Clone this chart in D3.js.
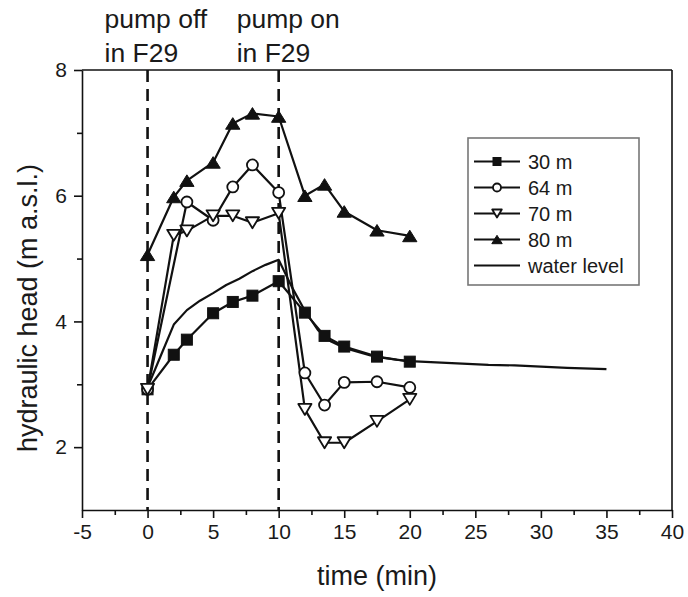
<!DOCTYPE html>
<html><head><meta charset="utf-8">
<script src="https://cdn.jsdelivr.net/npm/d3@7"></script>
<style>
html,body{margin:0;padding:0;background:#fff;}
text{font-family:"Liberation Sans",Arial,Helvetica,sans-serif;fill:#1a1a1a;}
</style></head>
<body><svg id="c" width="688" height="597"></svg>
<script>
// ---- data ----
const t30 = [0, 2, 3, 5, 6.5, 8, 10, 12, 13.5, 15, 17.5, 20];
const v30 = [2.92, 3.47, 3.71, 4.13, 4.31, 4.41, 4.64, 4.14, 3.77, 3.6, 3.44, 3.36];
const t64 = [0, 3, 5, 6.5, 8, 10, 12, 13.5, 15, 17.5, 20];
const v64 = [2.92, 5.9, 5.61, 6.14, 6.49, 6.05, 3.18, 2.67, 3.03, 3.04, 2.95];
const t70 = [0, 2, 3, 5, 6.5, 8, 10, 12, 13.5, 15, 17.5, 20];
const v70 = [2.92, 5.37, 5.44, 5.68, 5.68, 5.57, 5.72, 2.6, 2.07, 2.07, 2.41, 2.76];
const t80 = [0, 2, 3, 5, 6.5, 8, 10, 12, 13.5, 15, 17.5, 20];
const v80 = [5.06, 5.98, 6.24, 6.53, 7.15, 7.31, 7.26, 6.0, 6.18, 5.75, 5.45, 5.36];
const tWL = [0, 1, 2, 3, 4, 5, 6, 7, 8, 9, 10, 11, 12, 13, 14, 15, 16, 17, 18, 19, 20, 22, 24, 26, 28, 30, 32, 35];
const vWL = [2.95, 3.45, 3.95, 4.18, 4.33, 4.45, 4.58, 4.68, 4.8, 4.9, 4.98, 4.55, 4.17, 3.86, 3.68, 3.58, 3.52, 3.46, 3.42, 3.39, 3.37, 3.35, 3.33, 3.31, 3.3, 3.28, 3.26, 3.24];
const seriesNames = ["30 m", "64 m", "70 m", "80 m", "water level"];
const xMajorTicks = [-5, 0, 5, 10, 15, 20, 25, 30, 35, 40];
const xMinorTicks = [-2.5, 2.5, 7.5, 12.5, 17.5, 22.5, 27.5, 32.5, 37.5];
const yMajorTicks = [2, 4, 6, 8];
const yMinorTicks = [3, 5, 7];
const eventTimes = [0, 10];
const eventLabels = [["pump off", "in F29"], ["pump on", "in F29"]];

// ---- layout ----
const svg = d3.select("#c");
const L = 82, R = 672, T = 70, B = 510;
const x = d3.scaleLinear().domain([-5, 40]).range([L, R]);
const y = d3.scaleLinear().domain([1, 8]).range([B, T]);
const fmt = d => String(d);

// frame
svg.append("line").attr("x1", L).attr("x2", R).attr("y1", T).attr("y2", T).attr("stroke", "#111").attr("stroke-width", 1.6);
svg.append("line").attr("x1", R).attr("x2", R).attr("y1", T).attr("y2", B).attr("stroke", "#111").attr("stroke-width", 1.6);

// axes
svg.append("g").attr("transform", `translate(0,${B})`)
  .call(d3.axisBottom(x).tickValues(xMajorTicks).tickSize(8).tickSizeOuter(0).tickPadding(6).tickFormat(fmt));
svg.append("g").attr("transform", `translate(0,${B})`)
  .call(d3.axisBottom(x).tickValues(xMinorTicks).tickSize(5).tickSizeOuter(0).tickFormat(""))
  .call(g => g.select(".domain").remove());
svg.append("g").attr("transform", `translate(${L},0)`)
  .call(d3.axisLeft(y).tickValues(yMajorTicks).tickSize(8).tickSizeOuter(0).tickPadding(7).tickFormat(fmt));
svg.append("g").attr("transform", `translate(${L},0)`)
  .call(d3.axisLeft(y).tickValues(yMinorTicks).tickSize(5).tickSizeOuter(0).tickFormat(""))
  .call(g => g.select(".domain").remove());
svg.selectAll(".domain").attr("stroke", "#111").attr("stroke-width", 1.6);
svg.selectAll(".tick line").attr("stroke", "#111").attr("stroke-width", 1.6);
svg.selectAll(".tick text").attr("font-size", 21).attr("fill", "#1a1a1a")
  .attr("font-family", "Liberation Sans, Arial, sans-serif");

// axis titles
svg.append("text").attr("x", (L + R) / 2).attr("y", 585).attr("text-anchor", "middle")
  .attr("font-size", 27).text("time (min)");
svg.append("text").attr("transform", `translate(37,${(T + B) / 2 + 18}) rotate(-90)`)
  .attr("text-anchor", "middle").attr("font-size", 27).text("hydraulic head (m a.s.l.)");

// event dashed lines & labels
eventTimes.forEach((t, i) => {
  svg.append("line").attr("x1", x(t)).attr("x2", x(t)).attr("y1", T).attr("y2", B)
    .attr("stroke", "#111").attr("stroke-width", 2.6).attr("stroke-dasharray", "12,7");
  eventLabels[i].forEach((s, j) => {
    svg.append("text").attr("x", x(t) - 43 + (i === 1 ? 1 : 0)).attr("y", 28 + j * 34).attr("font-size", 26.5).text(s);
  });
});

// symbols
function drawMarker(g, type, cx, cy, s) {
  if (type === "square") {
    g.append("rect").attr("x", cx - s / 2).attr("y", cy - s / 2).attr("width", s).attr("height", s)
      .attr("fill", "#111").attr("stroke", "#111").attr("stroke-width", 1);
  } else if (type === "circle") {
    g.append("circle").attr("cx", cx).attr("cy", cy).attr("r", s / 2)
      .attr("fill", "#fff").attr("stroke", "#111").attr("stroke-width", 1.8);
  } else if (type === "tdown") {
    const w = s * 1.2, h = s;
    g.append("path").attr("d", `M${cx - w / 2},${cy - h / 2}L${cx + w / 2},${cy - h / 2}L${cx},${cy + h / 2}Z`)
      .attr("fill", "#fff").attr("stroke", "#111").attr("stroke-width", 1.8).attr("stroke-linejoin", "round");
  } else if (type === "tup") {
    const w = s * 1.3, h = s * 1.05;
    g.append("path").attr("d", `M${cx - w / 2},${cy + h / 2}L${cx + w / 2},${cy + h / 2}L${cx},${cy - h / 2}Z`)
      .attr("fill", "#111").attr("stroke", "#111").attr("stroke-width", 1);
  }
}

const line = d3.line().x(d => x(d[0])).y(d => y(d[1]));
const series = [
  { t: t30, v: v30, m: "square" },
  { t: t64, v: v64, m: "circle" },
  { t: t70, v: v70, m: "tdown" },
  { t: t80, v: v80, m: "tup" }
];
// water level
svg.append("path").datum(d3.zip(tWL, vWL)).attr("d", line).attr("fill", "none")
  .attr("stroke", "#111").attr("stroke-width", 2.2).attr("stroke-linejoin", "round");
series.forEach(s => {
  svg.append("path").datum(d3.zip(s.t, s.v)).attr("d", line).attr("fill", "none")
    .attr("stroke", "#111").attr("stroke-width", 2.2).attr("stroke-linejoin", "round");
});
series.forEach(s => {
  const g = svg.append("g");
  d3.zip(s.t, s.v).forEach(d => drawMarker(g, s.m, x(d[0]), y(d[1]), 11));
});

// legend
const lg = svg.append("g");
lg.append("rect").attr("x", 468).attr("y", 138).attr("width", 171).attr("height", 147)
  .attr("fill", "#fff").attr("stroke", "#777").attr("stroke-width", 1.6);
const types = ["square", "circle", "tdown", "tup", null];
seriesNames.forEach((n, i) => {
  const cy = 161.5 + i * 26;
  lg.append("line").attr("x1", 474).attr("x2", 520).attr("y1", cy).attr("y2", cy)
    .attr("stroke", "#111").attr("stroke-width", 2);
  if (types[i]) {
    const mg = lg.append("g");
    drawMarker(mg, types[i], 497, cy, 8);
  }
  lg.append("text").attr("x", 528).attr("y", cy).attr("dy", "0.36em").attr("font-size", 20).text(n);
});
</script></body></html>
